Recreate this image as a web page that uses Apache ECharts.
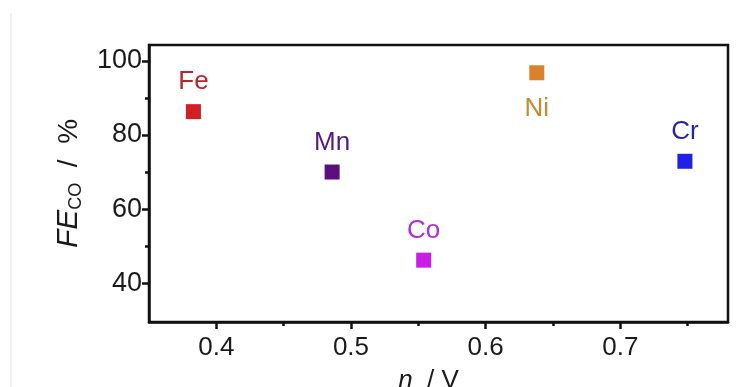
<!DOCTYPE html>
<html>
<head>
<meta charset="utf-8">
<script src="https://cdn.jsdelivr.net/npm/echarts@6/dist/echarts.min.js"></script>
<style>
  html, body { margin: 0; padding: 0; background: #fff; }
  #chart { width: 756px; height: 387px; }
</style>
</head>
<body>
<div id="chart"></div>
<script>
// Overpotential (V) vs CO faradaic efficiency (%) for each metal
const elements = ['Fe', 'Mn', 'Co', 'Ni', 'Cr'];
const overpotential = [0.383, 0.486, 0.554, 0.638, 0.748];
const faradaicEfficiency = [86.3, 70.0, 46.2, 96.8, 72.9];
const markerColors = ['#d21f26', '#5e0f7e', '#c81ee6', '#d9822b', '#2020e6'];
const labelColors = ['#b5262e', '#541a82', '#b02ed6', '#c88a30', '#2424a8'];
const labelBelow = [false, false, false, true, false];

const xMajorTicks = [0.4, 0.5, 0.6, 0.7];
const xMinorTicks = [0.45, 0.55, 0.65, 0.75];
const yMajorTicks = [40, 60, 80, 100];
const yMinorTicks = [50, 70, 90];

const FONT = 'Liberation Sans, Arial, sans-serif';
const INK = '#111';
const TEXT = '#1a1a1a';
const X_RANGE = { min: 0.35, max: 0.78 };
const Y_RANGE = { min: 29.5, max: 104.3 };

const chart = echarts.init(document.getElementById('chart'), null, { renderer: 'canvas' });

const series = elements.map((el, i) => ({
  type: 'scatter',
  name: el,
  xAxisIndex: 0,
  yAxisIndex: 0,
  data: [[overpotential[i], faradaicEfficiency[i]]],
  symbol: 'rect',
  symbolSize: 15,
  itemStyle: { color: markerColors[i], opacity: 1 },
  label: {
    show: true,
    formatter: el,
    position: labelBelow[i] ? 'bottom' : 'top',
    distance: labelBelow[i] ? 16 : 9,
    color: labelColors[i],
    fontSize: 26,
    fontFamily: FONT
  },
  emphasis: { disabled: true }
}));

const axisLineStyle = { color: INK, width: 2.5 };

chart.setOption({
  animation: false,
  backgroundColor: '#fff',
  grid: {
    left: 149, right: 28, top: 45, bottom: 65,
    outerBoundsMode: 'none',
    containLabel: false,
    show: true, borderColor: INK, borderWidth: 2.5, backgroundColor: 'transparent'
  },
  xAxis: [
    {
      type: 'value', ...X_RANGE,
      axisLine: { show: true, lineStyle: axisLineStyle },
      axisTick: { show: true, customValues: xMajorTicks, length: 7, lineStyle: axisLineStyle },
      axisLabel: { customValues: xMajorTicks, fontSize: 26, color: TEXT, margin: 13, fontFamily: FONT },
      splitLine: { show: false },
      name: '{i|η}  / V',
      nameLocation: 'middle',
      nameGap: 46,
      nameTextStyle: {
        fontSize: 26, color: TEXT, fontFamily: FONT, padding: [0, 20, 0, 0],
        rich: { i: { fontStyle: 'italic', fontSize: 26, fontFamily: FONT, color: TEXT } }
      }
    },
    {
      type: 'value', ...X_RANGE, position: 'bottom',
      axisLine: { show: false },
      axisTick: { show: true, customValues: xMinorTicks, length: 4, lineStyle: axisLineStyle },
      axisLabel: { show: false },
      splitLine: { show: false }
    }
  ],
  yAxis: [
    {
      type: 'value', ...Y_RANGE,
      axisLine: { show: true, lineStyle: axisLineStyle },
      axisTick: { show: true, customValues: yMajorTicks, length: 7, lineStyle: axisLineStyle },
      axisLabel: { customValues: yMajorTicks, fontSize: 27, color: TEXT, margin: 7, fontFamily: FONT },
      splitLine: { show: false },
      name: '{i|FE}{s|CO}{n|  /  %}',
      nameLocation: 'middle',
      nameGap: 64,
      nameTextStyle: {
        color: TEXT, fontFamily: FONT,
        rich: {
          i: { fontStyle: 'italic', fontSize: 30, fontFamily: FONT, color: TEXT },
          s: { fontSize: 18, fontFamily: FONT, color: TEXT, padding: [14, 0, 0, 0] },
          n: { fontSize: 28, fontFamily: FONT, color: TEXT }
        }
      }
    },
    {
      type: 'value', ...Y_RANGE, position: 'left',
      axisLine: { show: false },
      axisTick: { show: true, customValues: yMinorTicks, length: 4, lineStyle: axisLineStyle },
      axisLabel: { show: false },
      splitLine: { show: false }
    }
  ],
  graphic: [
    {
      type: 'line',
      shape: { x1: 11, y1: 13, x2: 11, y2: 387 },
      style: { stroke: '#e4e4e4', lineWidth: 1 },
      silent: true
    }
  ],
  series
});
</script>
</body>
</html>
